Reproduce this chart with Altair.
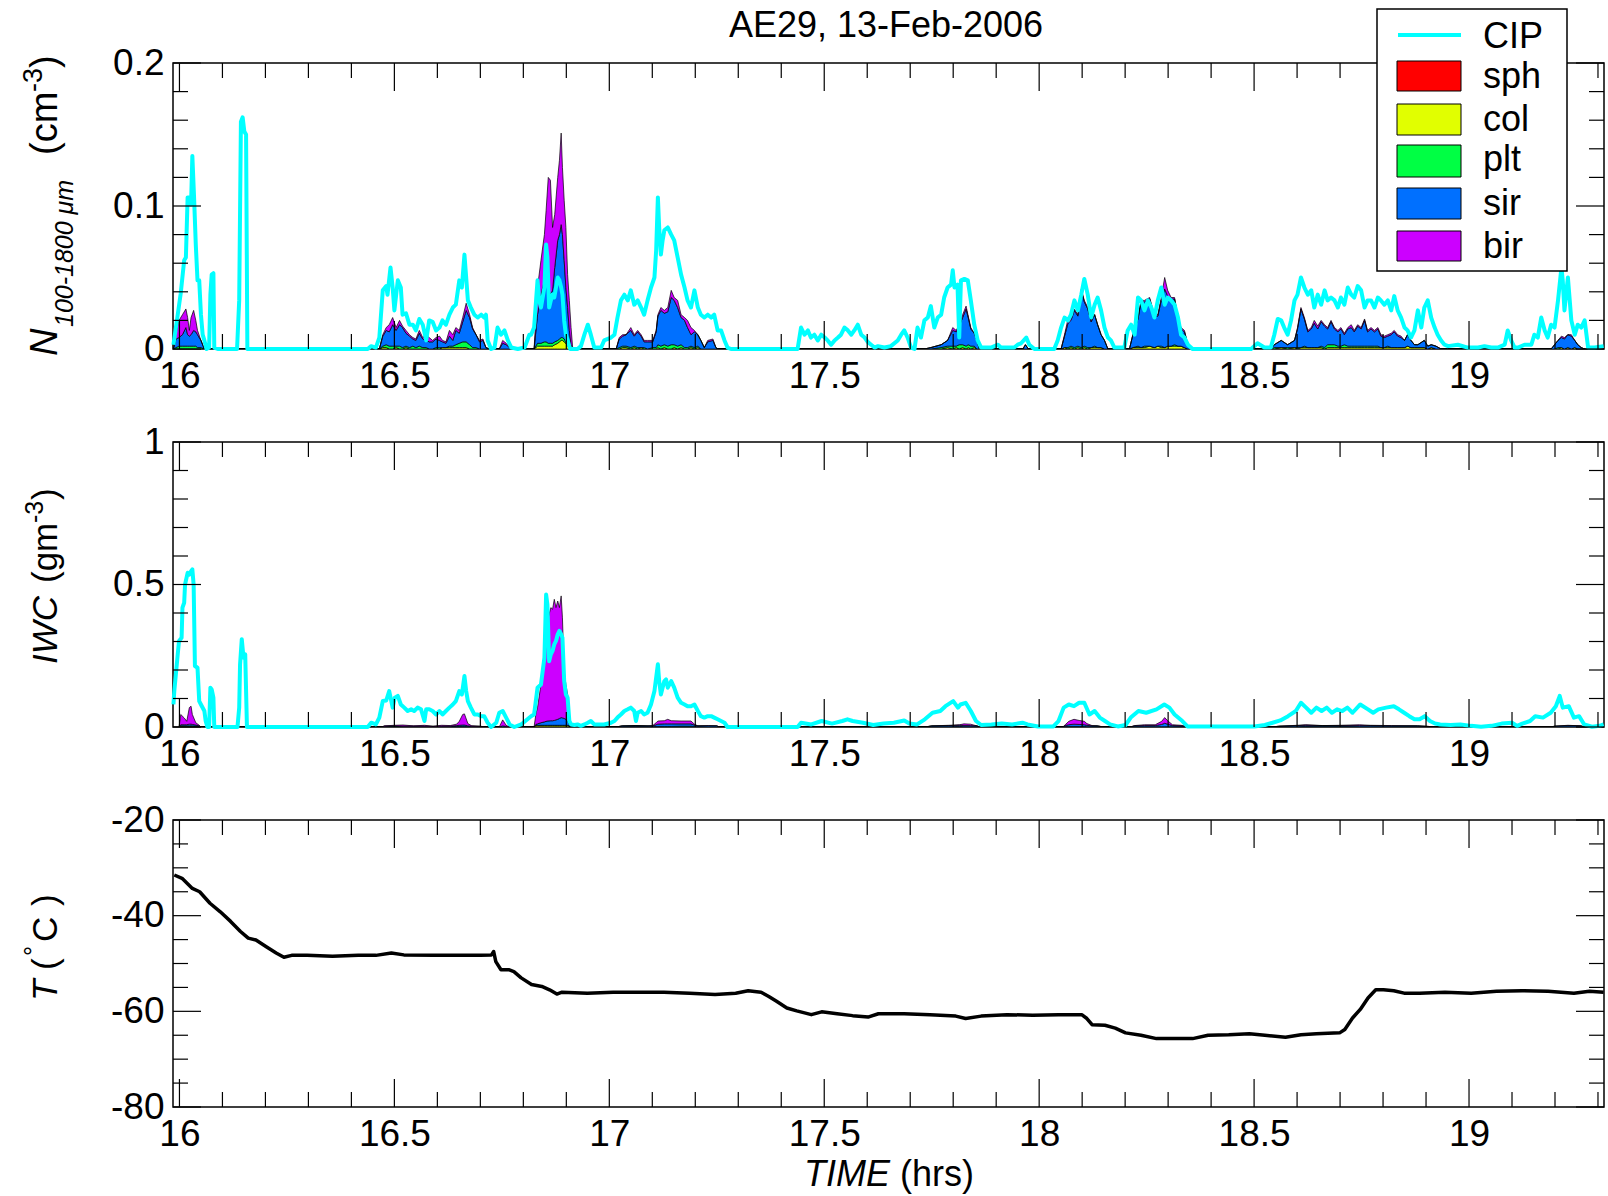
import altair as alt
import pandas as pd

FONT = "Liberation Sans"

# ---------------- axes / ticks ----------------
X_DOMAIN = [15.985, 19.314]
X_MAJOR = [16, 16.5, 17, 17.5, 18, 18.5, 19]
X_MINOR = [16.1, 16.2, 16.3, 16.4, 16.6, 16.7, 16.8, 16.9, 17.1, 17.2, 17.3, 17.4,
           17.6, 17.7, 17.8, 17.9, 18.1, 18.2, 18.3, 18.4, 18.6, 18.7, 18.8, 18.9,
           19.1, 19.2, 19.3]
N_DOMAIN = [0, 0.2]
N_MAJOR = [0, 0.1, 0.2]
N_MINOR = [0.02, 0.04, 0.06, 0.08, 0.12, 0.14, 0.16, 0.18]
I_DOMAIN = [0, 1]
I_MAJOR = [0, 0.5, 1]
I_MINOR = [0.1, 0.2, 0.3, 0.4, 0.6, 0.7, 0.8, 0.9]
T_DOMAIN = [-80, -20]
T_MAJOR = [-80, -60, -40, -20]
T_MINOR = [-75, -70, -65, -55, -50, -45, -35, -30, -25]

SPECIES = ["sph", "col", "plt", "sir", "bir"]
COLORS = ["#ff0000", "#e1ff00", "#00ff44", "#0070ff", "#cc00ff"]
CIP_COLOR = "#00ffff"

# ---------------- CIP number concentration (cm^-3) ----------------
CIP_N_T = [
    15.986, 15.996, 16.003, 16.011, 16.015, 16.019, 16.023, 16.027, 16.030, 16.034, 16.038, 16.042,
    16.046, 16.050, 16.054, 16.058, 16.063, 16.069, 16.072, 16.075, 16.079, 16.081, 16.089,
    16.134, 16.139, 16.143, 16.147, 16.151, 16.155, 16.158,
    16.438, 16.446, 16.457, 16.465, 16.473, 16.481, 16.484, 16.491, 16.496, 16.500, 16.508, 16.515,
    16.519, 16.527, 16.535, 16.543, 16.550, 16.558, 16.566, 16.574, 16.581, 16.589, 16.597, 16.605,
    16.612, 16.620, 16.628, 16.636, 16.643, 16.651, 16.657, 16.663, 16.667, 16.671, 16.678, 16.686,
    16.694, 16.702, 16.709, 16.713, 16.717, 16.725, 16.733, 16.740, 16.748, 16.756, 16.764, 16.772,
    16.787, 16.803, 16.814,
    16.818, 16.825, 16.833, 16.837, 16.841, 16.849, 16.853, 16.856, 16.860, 16.864, 16.868, 16.872,
    16.876, 16.880, 16.884, 16.888, 16.891, 16.895, 16.899, 16.903, 16.909, 16.926, 16.934, 16.942,
    16.950, 16.957, 16.965, 16.981, 16.988, 17.004, 17.012, 17.019, 17.027, 17.035, 17.043, 17.050,
    17.058, 17.066, 17.074, 17.081, 17.089, 17.097, 17.105, 17.109, 17.113, 17.116, 17.120, 17.124,
    17.128, 17.136, 17.144, 17.151, 17.159, 17.167, 17.175, 17.182, 17.190, 17.198, 17.206, 17.213,
    17.221, 17.229, 17.237, 17.244, 17.252, 17.260, 17.268, 17.275, 17.283,
    17.438, 17.446, 17.454, 17.462, 17.469, 17.477, 17.485, 17.493, 17.501, 17.508, 17.516, 17.524,
    17.532, 17.539, 17.547, 17.555, 17.563, 17.570, 17.578, 17.586, 17.594, 17.601, 17.609, 17.617,
    17.625, 17.640,
    17.655, 17.671, 17.679, 17.686, 17.694, 17.702, 17.710, 17.717, 17.725, 17.733, 17.741, 17.748,
    17.756, 17.764, 17.772, 17.779, 17.787, 17.795, 17.799, 17.803, 17.810, 17.814, 17.818, 17.826,
    17.834, 17.841, 17.849, 17.857, 17.865, 17.888, 17.904, 17.911, 17.942, 17.950, 17.958, 17.970,
    17.977, 17.989, 18.035, 18.043, 18.051, 18.059, 18.067, 18.074, 18.082, 18.090, 18.098, 18.105,
    18.113, 18.121, 18.129, 18.136, 18.144, 18.152, 18.160, 18.167, 18.175, 18.198, 18.206, 18.214,
    18.222, 18.230, 18.237, 18.245, 18.253, 18.261, 18.268, 18.276, 18.284, 18.292, 18.299, 18.307,
    18.315, 18.323, 18.330, 18.338, 18.346, 18.357, 18.493,
    18.508, 18.524, 18.539, 18.547, 18.555, 18.563, 18.570, 18.578, 18.586, 18.594, 18.601, 18.609,
    18.617, 18.625, 18.633, 18.640, 18.648, 18.656, 18.664, 18.671, 18.679, 18.687, 18.695, 18.702,
    18.710, 18.718, 18.726, 18.733, 18.741, 18.749, 18.757, 18.764, 18.772, 18.780, 18.788, 18.795,
    18.803, 18.811, 18.819, 18.826, 18.834, 18.842, 18.850, 18.857, 18.865, 18.873, 18.881, 18.889,
    18.896, 18.904, 18.912, 18.920, 18.927, 18.935, 18.943, 18.951, 18.974, 18.997, 19.021, 19.036,
    19.052, 19.067, 19.083, 19.090, 19.098, 19.106, 19.114, 19.129, 19.145, 19.152, 19.160, 19.168,
    19.176, 19.183, 19.191, 19.199, 19.207, 19.215, 19.218, 19.222, 19.230, 19.238, 19.246, 19.253,
    19.261, 19.269, 19.277, 19.292, 19.313,
]
CIP_N_V = [
    0.003, 0.024, 0.039, 0.062, 0.064, 0.106, 0.106, 0.101, 0.135, 0.106, 0.073, 0.048,
    0.048, 0.024, 0.010, 0.006, 0.000, 0.001, 0.038, 0.052, 0.053, 0.001, 0.000,
    0.000, 0.034, 0.159, 0.162, 0.152, 0.150, 0.000,
    0.000, 0.002, 0.001, 0.008, 0.041, 0.044, 0.038, 0.057, 0.043, 0.027, 0.048, 0.043,
    0.024, 0.025, 0.017, 0.017, 0.013, 0.021, 0.017, 0.006, 0.020, 0.019, 0.013, 0.015,
    0.020, 0.017, 0.024, 0.029, 0.031, 0.048, 0.043, 0.066, 0.050, 0.034, 0.029, 0.024,
    0.022, 0.024, 0.022, 0.024, 0.006, 0.000, 0.001, 0.015, 0.010, 0.013, 0.006, 0.001,
    0.000, 0.001, 0.010,
    0.010, 0.015, 0.048, 0.034, 0.029, 0.043, 0.073, 0.064, 0.029, 0.034, 0.038, 0.036,
    0.043, 0.050, 0.048, 0.043, 0.038, 0.020, 0.010, 0.006, 0.000, 0.000, 0.002, 0.010,
    0.017, 0.010, 0.001, 0.001, 0.006, 0.008, 0.010, 0.022, 0.034, 0.038, 0.034, 0.041,
    0.031, 0.034, 0.029, 0.024, 0.034, 0.043, 0.050, 0.069, 0.106, 0.085, 0.066, 0.076,
    0.083, 0.085, 0.080, 0.076, 0.064, 0.052, 0.043, 0.034, 0.029, 0.041, 0.029, 0.024,
    0.022, 0.024, 0.022, 0.024, 0.013, 0.013, 0.006, 0.001, 0.000,
    0.000, 0.015, 0.010, 0.013, 0.008, 0.010, 0.006, 0.010, 0.008, 0.006, 0.003, 0.006,
    0.008, 0.010, 0.015, 0.013, 0.010, 0.013, 0.017, 0.010, 0.008, 0.005, 0.003, 0.001,
    0.002, 0.001,
    0.002, 0.006, 0.010, 0.013, 0.008, 0.001, 0.000, 0.015, 0.008, 0.020, 0.022, 0.030,
    0.015, 0.022, 0.024, 0.036, 0.043, 0.045, 0.055, 0.043, 0.045, 0.008, 0.048, 0.049,
    0.048, 0.034, 0.017, 0.006, 0.001, 0.001, 0.003, 0.001, 0.001, 0.003, 0.004, 0.008,
    0.003, 0.000, 0.000, 0.006, 0.015, 0.022, 0.020, 0.024, 0.034, 0.027, 0.038, 0.049,
    0.038, 0.022, 0.031, 0.036, 0.027, 0.015, 0.008, 0.006, 0.001, 0.001, 0.013, 0.017,
    0.010, 0.036, 0.034, 0.027, 0.034, 0.029, 0.022, 0.034, 0.043, 0.031, 0.036, 0.034,
    0.031, 0.022, 0.010, 0.008, 0.003, 0.000, 0.000,
    0.004, 0.001, 0.001, 0.010, 0.021, 0.020, 0.015, 0.010, 0.020, 0.034, 0.038, 0.050,
    0.043, 0.038, 0.041, 0.029, 0.038, 0.031, 0.041, 0.034, 0.036, 0.034, 0.029, 0.036,
    0.031, 0.043, 0.038, 0.036, 0.044, 0.041, 0.029, 0.034, 0.034, 0.029, 0.036, 0.034,
    0.031, 0.034, 0.027, 0.037, 0.027, 0.022, 0.015, 0.013, 0.008, 0.013, 0.027, 0.015,
    0.029, 0.034, 0.022, 0.015, 0.010, 0.006, 0.003, 0.002, 0.003, 0.001, 0.001, 0.002,
    0.001, 0.001, 0.003, 0.013, 0.006, 0.001, 0.001, 0.003, 0.003, 0.010, 0.008, 0.022,
    0.013, 0.008, 0.017, 0.015, 0.034, 0.057, 0.048, 0.027, 0.050, 0.020, 0.010, 0.017,
    0.015, 0.020, 0.001, 0.001, 0.002,
]

# ---------------- habit-resolved number concentration (stacked) ----------------
N_T = [
    15.986, 15.992, 15.999, 16.007, 16.015, 16.019, 16.023, 16.027, 16.033, 16.038, 16.042, 16.050, 16.058,
    16.465, 16.473, 16.481, 16.488, 16.496, 16.504, 16.512, 16.519, 16.527, 16.535, 16.543, 16.550, 16.558,
    16.566, 16.574, 16.581, 16.589, 16.597, 16.605, 16.612, 16.620, 16.628, 16.636, 16.643, 16.651, 16.659,
    16.667, 16.675, 16.682, 16.690, 16.698, 16.706, 16.713, 16.721, 16.744, 16.752, 16.760, 16.772,
    16.825, 16.833, 16.841, 16.849, 16.853, 16.858, 16.863, 16.868, 16.873, 16.880, 16.884, 16.888, 16.891,
    16.895, 16.899, 16.903, 16.907, 16.911, 16.915,
    17.016, 17.023, 17.031, 17.039, 17.050, 17.058, 17.066, 17.074, 17.081, 17.089, 17.101, 17.109, 17.113,
    17.120, 17.128, 17.136, 17.144, 17.151, 17.159, 17.167, 17.175, 17.182, 17.190, 17.198, 17.206, 17.213,
    17.221, 17.229, 17.241, 17.248, 17.252,
    17.733, 17.748, 17.772, 17.787, 17.799, 17.807, 17.814, 17.822, 17.830, 17.835, 17.841, 17.849, 17.855,
    17.861, 17.962, 17.968, 17.975,
    18.051, 18.059, 18.067, 18.074, 18.082, 18.090, 18.098, 18.105, 18.113, 18.121, 18.129, 18.136, 18.144,
    18.152, 18.160,
    18.210, 18.218, 18.230, 18.237, 18.245, 18.257, 18.268, 18.276, 18.284, 18.292, 18.299, 18.307, 18.315,
    18.323, 18.330, 18.338, 18.346, 18.354,
    18.539, 18.547, 18.563, 18.578, 18.594, 18.601, 18.609, 18.617, 18.625, 18.633, 18.640, 18.648, 18.656,
    18.664, 18.671, 18.679, 18.687, 18.695, 18.702, 18.710, 18.718, 18.726, 18.733, 18.741, 18.749, 18.757,
    18.764, 18.772, 18.780, 18.788, 18.795, 18.803, 18.811, 18.819, 18.826, 18.834, 18.842, 18.850, 18.857,
    18.865, 18.873, 18.881, 18.896, 18.904, 18.912, 18.923, 18.935,
    19.191, 19.199, 19.207, 19.215, 19.222, 19.230, 19.238, 19.246, 19.253, 19.261, 19.269,
]
N_COL = [
    0, 0, 0, 0, 0, 0, 0, 0, 0, 0, 0, 0, 0,
    0, .001, .001, 0, 0, .001, 0, 0, .001, 0, 0, 0, 0, 0, 0, 0, 0, 0, 0, .001, .001, .001, .001, .001, .001,
    .001, .001, 0, 0, 0, 0, 0, 0, 0, 0, 0, 0, 0,
    0, .002, .002, .002, .002, .002, .002, .002, .003, .004, .005, .006, .006, .005, .004, .002, .001, 0, 0,
    0, 0, .001, .001, 0, .001, 0, .001, 0, 0, 0, 0, .001, 0, .001, 0, 0, .001, 0, .001, 0, 0, .001, 0, .001,
    0, 0, 0, 0, 0, 0,
    0, 0, 0, .001, 0, .001, 0, .001, 0, .001, 0, .001, 0, 0, 0, 0, 0,
    0, .001, 0, .001, 0, .001, 0, .001, 0, .001, .001, .001, .001, 0, 0,
    0, .001, .001, .001, .001, .002, .001, .002, .001, .001, .002, .002, .002, .002, .002, .001, 0, 0,
    0, 0, .001, 0, .001, 0, .001, .001, .001, .001, .001, .001, .001, 0, .001, .001, .001, .001, .001, .001,
    .001, .001, .001, .001, .001, .001, .001, .001, .001, .001, .001, .001, .001, .001, .001, .001, .001, .001,
    .002, .001, .001, .001, .001, 0, .001, 0, 0,
    0, 0, 0, .001, 0, .001, 0, .001, 0, 0, 0,
]
N_PLT = [
    0, .001, .002, .002, .002, .002, .002, .002, .002, .002, .001, .001, 0,
    0, .001, .002, .002, .002, .001, .002, .001, .001, .001, .002, .001, .002, .001, .001, 0, 0, .001, .001,
    0, 0, .001, .001, .002, .003, .004, .004, .003, .001, .001, 0, 0, 0, 0, 0, 0, 0, 0,
    0, .002, .002, .003, .003, .002, .002, .002, .002, .002, .002, .002, .002, .002, .001, .001, .001, 0, 0,
    0, .001, .001, .001, .001, .001, .001, 0, .001, 0, .001, .001, .002, .002, .002, .002, .003, .002, .002,
    .002, .001, .001, .001, .001, .001, 0, 0, 0, 0, 0, 0,
    0, 0, .001, .001, .002, .001, .003, .002, .002, .002, .002, .001, 0, 0, 0, 0, 0,
    0, 0, .001, .001, .001, .001, .001, .001, .001, 0, .001, 0, 0, 0, 0,
    0, 0, .001, 0, .001, 0, 0, 0, .001, 0, 0, 0, .001, 0, 0, 0, 0, 0,
    0, .001, 0, .001, 0, .001, 0, .001, 0, 0, 0, 0, .001, .001, .002, .002, .002, .001, .001, .002, .001, .001,
    .001, .001, .001, .001, .001, .001, .001, .001, 0, 0, .001, 0, 0, 0, 0, 0, 0, 0, 0, 0, 0, 0, 0, 0, 0,
    0, 0, .001, 0, 0, 0, 0, 0, 0, 0, 0,
]
N_SIR = [
    0, .006, .006, .008, .013, .008, .007, .008, .011, .010, .009, .005, 0,
    0, .007, .010, .010, .015, .011, .015, .014, .009, .008, .005, .005, .009, .006, .005, .005, .005, .006,
    .005, .004, .003, .007, .004, .010, .007, .014, .022, .019, .013, .009, .005, .006, .001, 0, 0, .004,
    .003, 0,
    0, .020, .034, .043, .040, .039, .034, .037, .052, .070, .073, .079, .072, .055, .038, .026, .011, .003, 0,
    0, .006, .007, .008, .012, .007, .011, .008, .004, .005, .004, .011, .020, .025, .022, .024, .033, .031,
    .027, .019, .019, .014, .008, .011, .008, .006, .001, .005, .006, .001, 0,
    0, .001, .002, .004, .011, .010, .013, .019, .026, .019, .012, .009, .006, 0, 0, .003, 0,
    0, .008, .017, .018, .026, .021, .040, .031, .027, .018, .022, .016, .009, .006, 0,
    0, .009, .019, .032, .031, .033, .022, .021, .032, .041, .035, .033, .032, .019, .012, .011, .003, 0,
    0, .002, .005, .002, .005, .013, .027, .019, .011, .013, .017, .013, .017, .015, .011, .016, .011, .010,
    .012, .007, .012, .013, .010, .014, .012, .018, .010, .012, .010, .012, .008, .007, .007, .009, .011,
    .008, .007, .005, .008, .005, .002, .002, .005, .002, .002, .002, 0,
    0, .003, .005, .007, .007, .009, .009, .005, .003, .001, 0,
]
N_BIR = [
    0, .004, .012, .014, .013, .012, .004, .012, .014, .008, .003, 0, 0,
    0, .001, .002, .005, .005, .002, .003, .001, .002, .001, .001, .001, .002, .001, .004, .003, .001, .001,
    .003, .001, .001, .004, .004, .002, .002, .003, .005, .002, .001, 0, .001, .001, 0, 0, 0, .002, .001, 0,
    0, .019, .024, .032, .052, .077, .080, .044, .037, .044, .052, .064, .047, .042, .042, .023, .021, .012, 0,
    0, .001, .001, 0, .002, .001, .001, .001, .001, .001, .001, .001, .001, .002, .002, .003, .005, .002,
    .005, .002, .002, .005, .005, .001, 0, 0, 0, .001, .001, 0, 0,
    0, 0, 0, 0, .002, .001, .001, .002, .002, .001, .001, 0, 0, 0, 0, 0, 0,
    0, .001, .003, .002, .001, .001, .001, .001, .001, .001, 0, 0, 0, 0, 0,
    0, 0, .001, .001, .001, .001, .001, .001, .002, .008, .004, .001, .001, .001, .001, .001, 0, 0,
    0, 0, 0, 0, 0, .001, .001, .001, .001, .001, .002, .002, .001, .001, .001, .001, .001, .001, .001, .001,
    .001, .002, .001, .001, .001, .001, .001, .001, .001, .001, .001, .001, .001, .001, .001, .001, .001,
    0, 0, 0, 0, 0, 0, 0, 0, 0, 0,
    0, 0, 0, .001, .001, 0, .001, 0, 0, 0, 0,
]

# ---------------- CIP ice water content (g m^-3) ----------------
CIP_I_T = [
    15.986, 15.988, 15.996, 15.999, 16.005, 16.007, 16.011, 16.013, 16.019, 16.023, 16.027, 16.030,
    16.033, 16.036, 16.042, 16.046, 16.050, 16.058, 16.061, 16.065, 16.069, 16.072, 16.075, 16.079,
    16.081, 16.135, 16.139, 16.141, 16.145, 16.149, 16.153, 16.157,
    16.438, 16.446, 16.457, 16.465, 16.473, 16.481, 16.488, 16.496, 16.501, 16.508, 16.515, 16.523,
    16.531, 16.539, 16.546, 16.554, 16.562, 16.570, 16.574, 16.581, 16.589, 16.597, 16.605, 16.612,
    16.620, 16.628, 16.636, 16.643, 16.651, 16.657, 16.663, 16.667, 16.671, 16.678, 16.686, 16.694,
    16.702, 16.709, 16.717, 16.725, 16.737, 16.744, 16.752, 16.760, 16.768, 16.779, 16.795,
    16.818, 16.825, 16.833, 16.841, 16.849, 16.853, 16.856, 16.860, 16.864, 16.868, 16.872, 16.876,
    16.880, 16.884, 16.888, 16.891, 16.895, 16.899, 16.903, 16.907, 16.911, 16.919, 16.926, 16.934,
    16.942, 16.950, 16.957, 16.965, 16.973, 16.988, 17.004, 17.012, 17.019, 17.027, 17.035, 17.043,
    17.050, 17.058, 17.062, 17.066, 17.074, 17.081, 17.089, 17.097, 17.105, 17.113, 17.116, 17.120,
    17.124, 17.128, 17.132, 17.136, 17.144, 17.151, 17.159, 17.167, 17.175, 17.182, 17.190, 17.198,
    17.206, 17.213, 17.221, 17.229, 17.237, 17.244, 17.252, 17.260, 17.268, 17.275, 17.438,
    17.446, 17.470, 17.494, 17.518, 17.542, 17.554, 17.566, 17.590, 17.614, 17.638, 17.662, 17.686,
    17.698, 17.716, 17.734, 17.752, 17.770, 17.782, 17.800, 17.811, 17.817, 17.829, 17.841, 17.853,
    17.865, 17.889, 17.913, 17.937, 17.961, 17.973, 17.997, 18.033, 18.045, 18.057, 18.069, 18.081,
    18.093, 18.105, 18.117, 18.129, 18.141, 18.153, 18.165, 18.183, 18.201, 18.213, 18.231, 18.249,
    18.273, 18.291, 18.303, 18.315, 18.333, 18.345, 18.501, 18.525, 18.543, 18.561, 18.579, 18.597,
    18.609, 18.621, 18.633, 18.645, 18.657, 18.669, 18.681, 18.693, 18.705, 18.717, 18.729, 18.747,
    18.765, 18.777, 18.789, 18.807, 18.825, 18.837, 18.849, 18.861, 18.873, 18.885, 18.897, 18.909,
    18.921, 18.933, 18.957, 18.980, 19.005, 19.028, 19.052, 19.076, 19.100, 19.112, 19.124, 19.142,
    19.154, 19.172, 19.190, 19.202, 19.211, 19.218, 19.232, 19.244, 19.256, 19.268, 19.286, 19.304,
    19.313,
]
CIP_I_V = [
    0.079, 0.126, 0.255, 0.302, 0.313, 0.419, 0.436, 0.500, 0.541, 0.535, 0.547, 0.553,
    0.500, 0.214, 0.208, 0.091, 0.079, 0.056, 0.021, 0.000, 0.000, 0.138, 0.132, 0.103,
    0.000, 0.000, 0.068, 0.220, 0.308, 0.243, 0.255, 0.000,
    0.000, 0.015, 0.009, 0.033, 0.091, 0.093, 0.126, 0.068, 0.103, 0.109, 0.079, 0.068,
    0.056, 0.062, 0.056, 0.068, 0.062, 0.021, 0.062, 0.062, 0.056, 0.044, 0.056, 0.044,
    0.056, 0.068, 0.079, 0.091, 0.126, 0.114, 0.179, 0.126, 0.091, 0.068, 0.044, 0.044,
    0.038, 0.038, 0.015, 0.000, 0.015, 0.050, 0.056, 0.033, 0.009, 0.000, 0.009,
    0.038, 0.044, 0.138, 0.149, 0.243, 0.465, 0.430, 0.231, 0.255, 0.267, 0.290, 0.302,
    0.325, 0.337, 0.325, 0.313, 0.161, 0.114, 0.103, 0.021, 0.009, 0.007, 0.009, 0.004,
    0.009, 0.015, 0.021, 0.009, 0.009, 0.009, 0.015, 0.021, 0.033, 0.044, 0.056, 0.062,
    0.068, 0.056, 0.021, 0.050, 0.056, 0.044, 0.050, 0.079, 0.126, 0.220, 0.161, 0.114,
    0.138, 0.161, 0.167, 0.138, 0.161, 0.138, 0.103, 0.085, 0.079, 0.073, 0.073, 0.079,
    0.056, 0.038, 0.033, 0.038, 0.038, 0.033, 0.027, 0.021, 0.015, 0.000, 0.000,
    0.015, 0.009, 0.021, 0.012, 0.021, 0.027, 0.021, 0.015, 0.007, 0.012, 0.015, 0.023,
    0.012, 0.009, 0.027, 0.050, 0.056, 0.073, 0.091, 0.068, 0.079, 0.085, 0.056, 0.021,
    0.007, 0.009, 0.012, 0.009, 0.015, 0.009, 0.002, 0.002, 0.021, 0.068, 0.079, 0.073,
    0.085, 0.085, 0.044, 0.056, 0.033, 0.021, 0.009, 0.002, 0.007, 0.033, 0.056, 0.050,
    0.062, 0.079, 0.068, 0.044, 0.021, 0.002, 0.002, 0.007, 0.015, 0.023, 0.038, 0.056,
    0.085, 0.068, 0.050, 0.068, 0.056, 0.068, 0.050, 0.062, 0.056, 0.068, 0.050, 0.079,
    0.062, 0.050, 0.062, 0.068, 0.073, 0.062, 0.050, 0.038, 0.027, 0.027, 0.038, 0.021,
    0.012, 0.009, 0.007, 0.009, 0.004, 0.001, 0.004, 0.012, 0.015, 0.004, 0.012, 0.021,
    0.038, 0.033, 0.050, 0.073, 0.109, 0.068, 0.073, 0.033, 0.038, 0.009, 0.001, 0.004,
    0.009,
]

# ---------------- habit-resolved IWC (stacked) ----------------
I_T = [
    15.999, 16.003, 16.011, 16.017, 16.023, 16.027, 16.030, 16.038, 16.046, 16.050,
    16.470, 16.477, 16.500, 16.520, 16.545, 16.570, 16.590, 16.610, 16.630, 16.645, 16.651, 16.659, 16.663,
    16.671, 16.680, 16.700, 16.712, 16.744, 16.752, 16.760, 16.768,
    16.825, 16.829, 16.833, 16.841, 16.849, 16.856, 16.864, 16.868, 16.872, 16.876, 16.880, 16.884, 16.888,
    16.891, 16.895, 16.899, 16.903, 16.907, 16.909,
    17.016, 17.030, 17.060, 17.090, 17.101, 17.109, 17.113, 17.128, 17.136, 17.144, 17.167, 17.190, 17.198,
    17.206, 17.230, 17.250, 17.256,
    17.735, 17.750, 17.790, 17.815, 17.825, 17.840, 17.855, 17.862,
    18.055, 18.062, 18.069, 18.081, 18.093, 18.105, 18.111, 18.123, 18.135, 18.150,
    18.212, 18.222, 18.245, 18.270, 18.285, 18.292, 18.299, 18.310, 18.330, 18.350,
    18.540, 18.560, 18.600, 18.620, 18.660, 18.700, 18.745, 18.770, 18.820, 18.880, 18.930,
    19.190, 19.200, 19.230, 19.260, 19.270,
]
I_COL = [
    0, .003, .003, .003, .003, .003, .003, .002, .001, 0,
    0, .001, .001, .001, .001, .001, .001, .001, .001, .001, .001, .001, .001, .001, .001, .001, 0, 0, 0, 0, 0,
    0, .004, .004, .004, .004, .004, .004, .004, .004, .004, .004, .004, .004, .004, .004, .004, .004, .003, 0,
    0, .001, .001, .001, .001, .001, .001, .001, .001, .001, .001, .001, .001, .001, 0, 0, 0,
    0, .001, .001, .001, .001, .001, .001, 0,
    0, .001, .001, .001, .001, .001, .001, .001, .001, 0,
    0, .001, .001, .001, .001, .001, .001, .001, .001, 0,
    0, .001, .001, .001, .001, .001, .001, .001, .001, .001, 0,
    0, 0, .001, 0, 0,
]
I_PLT = [
    0, .001, .001, .001, .001, .001, .001, .001, 0, 0,
    0, 0, .001, 0, 0, 0, 0, 0, 0, .001, .001, .001, .001, 0, 0, 0, 0, 0, 0, 0, 0,
    0, .002, .002, .002, .002, .002, .002, .002, .002, .002, .002, .002, .002, .002, .002, .002, .002, .001, 0,
    0, 0, .001, 0, 0, .001, .001, .001, .001, .001, .002, .002, .001, 0, 0, 0, 0,
    0, 0, 0, .001, 0, 0, 0, 0,
    0, .001, .001, .001, .001, .001, 0, 0, 0, 0,
    0, 0, 0, 0, 0, 0, 0, 0, 0, 0,
    0, 0, 0, .001, .001, .001, 0, 0, 0, 0, 0,
    0, 0, 0, 0, 0,
]
I_SIR = [
    0, .004, .004, .004, .006, .006, .005, .004, .003, 0,
    0, .002, .002, .002, .002, .002, .001, .002, .002, .003, .004, .005, .005, .003, .002, .001, 0, 0, .004,
    .002, 0,
    0, .003, .005, .009, .012, .015, .016, .016, .017, .019, .021, .024, .027, .026, .024, .021, .015, .005, 0,
    0, .003, .003, .003, .003, .006, .008, .009, .009, .009, .008, .008, .005, .003, .004, .004, 0,
    0, .003, .004, .004, .004, .004, .003, 0,
    0, .004, .006, .008, .007, .006, .005, .003, .003, 0,
    0, .003, .004, .004, .008, .012, .009, .004, .003, 0,
    0, .002, .004, .004, .003, .003, .004, .004, .003, .003, 0,
    0, .003, .004, .004, 0,
]
I_BIR = [
    0, .036, .024, .012, .058, .063, .035, .008, .002, 0,
    0, .001, .002, .004, .001, .003, .001, .003, .002, .005, .014, .037, .039, .008, .001, .001, 0, 0, .021,
    .004, 0,
    0, .035, .057, .134, .249, .351, .397, .391, .425, .394, .415, .389, .427, .351, .166, .122, .093, .024, 0,
    0, 0, 0, 0, .001, .007, .011, .011, .016, .011, .010, .010, .003, 0, .001, 0, 0,
    0, 0, .001, .002, .006, .005, 0, 0,
    0, .004, .012, .017, .014, .012, .006, .001, 0, 0,
    0, .001, .003, .003, .011, .020, .012, .003, .002, 0,
    0, 0, .001, .002, 0, .001, .003, .001, .001, 0, 0,
    0, 0, .001, 0, 0,
]

# ---------------- temperature (deg C) ----------------
TEMP_T = [
    15.988, 16.006, 16.030, 16.047, 16.071, 16.095, 16.119, 16.142, 16.160, 16.178, 16.202, 16.225,
    16.243, 16.261, 16.297, 16.356, 16.416, 16.457, 16.493, 16.522, 16.594, 16.653, 16.700, 16.726,
    16.731, 16.736, 16.748, 16.766, 16.778, 16.795, 16.819, 16.843, 16.861, 16.878, 16.890, 16.949,
    17.009, 17.068, 17.127, 17.187, 17.246, 17.294, 17.323, 17.353, 17.371, 17.389, 17.413, 17.436,
    17.470, 17.494, 17.530, 17.566, 17.602, 17.626, 17.686, 17.746, 17.806, 17.829, 17.865, 17.925,
    17.985, 18.045, 18.099, 18.111, 18.123, 18.153, 18.177, 18.201, 18.237, 18.273, 18.309, 18.357,
    18.393, 18.441, 18.489, 18.525, 18.573, 18.609, 18.645, 18.699, 18.711, 18.729, 18.747, 18.765,
    18.783, 18.801, 18.825, 18.849, 18.885, 18.944, 19.005, 19.064, 19.124, 19.184, 19.244, 19.280,
    19.313,
]
TEMP_V = [
    -31.5, -32.2, -34.3, -35.0, -37.4, -39.2, -41.2, -43.3, -44.7, -45.1, -46.5, -47.8,
    -48.7, -48.3, -48.3, -48.5, -48.3, -48.3, -47.8, -48.2, -48.3, -48.3, -48.3, -48.2,
    -47.5, -49.6, -51.3, -51.3, -51.7, -53.0, -54.4, -54.8, -55.5, -56.4, -56.0, -56.2,
    -56.0, -56.0, -56.0, -56.2, -56.5, -56.2, -55.7, -56.0, -56.9, -57.9, -59.3, -59.9,
    -60.7, -60.1, -60.5, -60.9, -61.2, -60.5, -60.5, -60.7, -61.0, -61.5, -61.0, -60.7,
    -60.8, -60.7, -60.7, -61.5, -62.8, -62.9, -63.5, -64.5, -65.0, -65.7, -65.7, -65.7,
    -65.0, -64.9, -64.7, -65.0, -65.4, -64.9, -64.7, -64.5, -63.8, -61.4, -59.6, -57.2,
    -55.5, -55.5, -55.7, -56.2, -56.2, -56.0, -56.2, -55.8, -55.7, -55.8, -56.2, -55.8,
    -56.0,
]

for a, b in [(CIP_N_T, CIP_N_V), (CIP_I_T, CIP_I_V), (TEMP_T, TEMP_V)]:
    assert len(a) == len(b), (len(a), len(b))
for s in (N_COL, N_PLT, N_SIR, N_BIR):
    assert len(s) == len(N_T), (len(s), len(N_T))
for s in (I_COL, I_PLT, I_SIR, I_BIR):
    assert len(s) == len(I_T), (len(s), len(I_T))

# ---------------- layout ----------------
W = 1431
H_N, H_I, H_T = 286, 285, 287
GAP = 93
MAJ, MIN = 28, 15
LBL = 37


def xscale():
    return alt.Scale(domain=X_DOMAIN, nice=False, zero=False)


def yscale(dom):
    return alt.Scale(domain=dom, nice=False, zero=False)


def one():
    return pd.DataFrame({"a": [0]})


def make_axes(y_major, label_expr=None):
    xaxis = alt.Axis(values=X_MAJOR, format=".1~f", labelFont=FONT, labelFontSize=LBL, labelColor="black",
                     ticks=False, tickSize=0, domain=False, grid=False, labelPadding=9,
                     labelFlush=False, labelOverlap=False, title=None)
    ykw = dict(values=y_major, labelFont=FONT, labelFontSize=LBL, labelColor="black", ticks=False, tickSize=0,
               domain=False, grid=False, labelPadding=9, labelFlush=False, labelOverlap=False, title=None)
    if label_expr:
        ykw["labelExpr"] = label_expr
    else:
        ykw["format"] = ".1~f"
    return xaxis, alt.Axis(**ykw)


def stack_layers(t, series, dom, xaxis, yaxis):
    out = []
    base = [0.0] * len(t)
    for name, vals in series:
        lo = list(base)
        hi = [b + v for b, v in zip(base, vals)]
        base = hi
        df = pd.DataFrame({"t": t, "lo": lo, "hi": hi})
        col = COLORS[SPECIES.index(name)]
        out.append(alt.Chart(df).mark_area(fill=col, fillOpacity=1, stroke="black", strokeWidth=0.7,
                                           clip=True).encode(
            x=alt.X("t:Q", scale=xscale(), axis=xaxis),
            y=alt.Y("hi:Q", scale=yscale(dom), axis=yaxis),
            y2="lo:Q",
        ))
    return out


def line_layer(t, v, dom, color, width, xaxis, yaxis):
    df = pd.DataFrame({"t": t, "v": v})
    return alt.Chart(df).mark_line(color=color, strokeWidth=width, strokeJoin="round").encode(
        x=alt.X("t:Q", scale=xscale(), axis=xaxis),
        y=alt.Y("v:Q", scale=yscale(dom), axis=yaxis),
    )


def tick_layers(h, dom, y_major, y_minor, xaxis, yaxis):
    layers = []
    for vals, L in ((X_MAJOR, MAJ), (X_MINOR, MIN)):
        df = pd.DataFrame({"t": vals})
        layers.append(alt.Chart(df).mark_rule(color="black", strokeWidth=1.2).encode(
            x=alt.X("t:Q", scale=xscale(), axis=xaxis),
            y=alt.value(h), y2=alt.value(h - L)))
        layers.append(alt.Chart(df).mark_rule(color="black", strokeWidth=1.2).encode(
            x=alt.X("t:Q", scale=xscale(), axis=xaxis),
            y=alt.value(0), y2=alt.value(L)))
    for vals, L in ((y_major, MAJ), (y_minor, MIN)):
        df = pd.DataFrame({"v": vals})
        layers.append(alt.Chart(df).mark_rule(color="black", strokeWidth=1.2).encode(
            y=alt.Y("v:Q", scale=yscale(dom), axis=yaxis),
            x=alt.value(0), x2=alt.value(L)))
        layers.append(alt.Chart(df).mark_rule(color="black", strokeWidth=1.2).encode(
            y=alt.Y("v:Q", scale=yscale(dom), axis=yaxis),
            x=alt.value(W), x2=alt.value(W - L)))
    return layers


def txt(text, x, y, size, angle=0, italic=False, align="left", baseline="alphabetic"):
    return alt.Chart(one()).mark_text(
        text=text, font=FONT, fontSize=size, fontStyle="italic" if italic else "normal",
        angle=angle, align=align, baseline=baseline, color="black",
    ).encode(x=alt.value(x), y=alt.value(y))


def rect(x1, x2, y1, y2, fill, stroke="black", sw=1.0):
    return alt.Chart(one()).mark_rect(fill=fill, stroke=stroke, strokeWidth=sw).encode(
        x=alt.value(x1), x2=alt.value(x2), y=alt.value(y1), y2=alt.value(y2))


# ---------- top panel ----------
xa, ya = make_axes(N_MAJOR)
legend = [
    rect(1204, 1394, -54, 208, "white", "black", 1.5),
    alt.Chart(one()).mark_rule(color=CIP_COLOR, strokeWidth=4).encode(
        x=alt.value(1225), x2=alt.value(1288), y=alt.value(-28), y2=alt.value(-28)),
    txt("CIP", 1310, -15, 36),
]
sw_y = [(-2, 28, 25), (41, 72, 68), (82, 114, 108), (125, 156, 152), (168, 198, 195)]
for (name, col), (y1, y2, yb) in zip(zip(SPECIES, COLORS), sw_y):
    legend.append(rect(1224, 1288, y1, y2, col, "black", 1.0))
    legend.append(txt(name, 1310, yb, 36))

top = alt.layer(
    rect(-172, -171, -62, -61, "white", "white", 0),
    *stack_layers(N_T, [("col", N_COL), ("plt", N_PLT), ("sir", N_SIR), ("bir", N_BIR)], N_DOMAIN, xa, ya),
    line_layer(CIP_N_T, CIP_N_V, N_DOMAIN, CIP_COLOR, 4, xa, ya),
    *tick_layers(H_N, N_DOMAIN, N_MAJOR, N_MINOR, xa, ya),
    txt("AE29, 13-Feb-2006", 713, -26, 36, align="center"),
    txt("N", -116, 293, 38, angle=270, italic=True),
    txt("100-1800 \u03bcm", -100, 264, 25, angle=270, italic=True),
    txt("(cm", -116, 92, 38, angle=270),
    txt("-3", -131, 29, 27, angle=270),
    txt(")", -116, 5, 38, angle=270),
    *legend,
).properties(width=W, height=H_N)

# ---------- middle panel ----------
xa, ya = make_axes(I_MAJOR)
mid = alt.layer(
    *stack_layers(I_T, [("col", I_COL), ("plt", I_PLT), ("sir", I_SIR), ("bir", I_BIR)], I_DOMAIN, xa, ya),
    line_layer(CIP_I_T, CIP_I_V, I_DOMAIN, CIP_COLOR, 4, xa, ya),
    *tick_layers(H_I, I_DOMAIN, I_MAJOR, I_MINOR, xa, ya),
    txt("IWC", -116, 222, 35, angle=270, italic=True),
    txt("(gm", -116, 141, 35, angle=270),
    txt("-3", -130, 81, 25, angle=270),
    txt(")", -116, 58, 35, angle=270),
).properties(width=W, height=H_I)

# ---------- bottom panel ----------
xa, ya = make_axes(T_MAJOR, label_expr="'' + datum.value")
bot = alt.layer(
    line_layer(TEMP_T, TEMP_V, T_DOMAIN, "black", 3.5, xa, ya),
    *tick_layers(H_T, T_DOMAIN, T_MAJOR, T_MINOR, xa, ya),
    txt("T", -116, 181, 35, angle=270, italic=True),
    txt("(", -116, 150, 35, angle=270),
    txt("\u00b0", -131, 136, 25, angle=270),
    txt("C", -116, 122, 35, angle=270),
    txt(")", -116, 86, 35, angle=270),
    txt("TIME", 717, 366, 36, italic=True, align="right"),
    txt("(hrs)", 727, 366, 36, align="left"),
).properties(width=W, height=H_T)

chart = alt.vconcat(top, mid, bot, spacing=GAP, bounds="flush", padding=0).configure_view(
    stroke="black", strokeWidth=1.5
)

chart.save("out.html", embed_options={"renderer": "svg", "actions": False})
